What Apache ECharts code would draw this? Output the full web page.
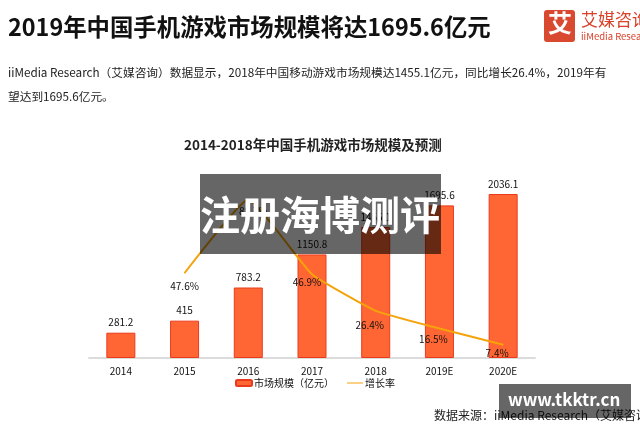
<!DOCTYPE html>
<html>
<head>
<meta charset="UTF-8">
<title>2014-2018年中国手机游戏市场规模及预测</title>
<script src="https://cdn.jsdelivr.net/npm/echarts@6/dist/echarts.min.js"></script>
<style>
    html,body{margin:0;padding:0;background:#fff;}
    #main{width:640px;height:427px;}
</style>
</head>
<body>
<div id="main"></div>
<script>
var FONT='"Noto Sans CJK SC"';
var categories=['2014','2015','2016','2017','2018','2019E','2020E'];
// 柱子标注的数值
var marketLabels=['281.2','415','783.2','1150.8','1455.1','1695.6','2036.1'];
// 柱高按图上读取，2020E 原图画得比标注低
var marketValues=[281.2,415,783.2,1150.8,1455.1,1695.6,1822];
// 2016 的增长率被水印挡住，按图上位置估读
var growthValues=[null,47.6,88.7,46.9,26.4,16.5,7.4];
var legendNames=['市场规模（亿元）','增长率'];

var myChart=echarts.init(document.getElementById('main'),null,{renderer:'canvas'});

// 增长率标签的偏移
var growthOffsets=[null,[0,3],[5,1],[-5,-3],[-6,4],[-6,0],[-6,-2]];
var growthData=growthValues.map(function(v,i){
    if(v===null) return null;
    return {value:v,label:{offset:growthOffsets[i]}};
});

function text(str,x,y,size,weight,color,z){
    return {type:'text',left:x,top:y,z:z||10,silent:true,style:{
        text:str,fill:color||'#111',font:(weight||'normal')+' '+size+'px '+FONT
    }};
}

myChart.setOption({
    backgroundColor:'#fff',
    animation:false,
    grid:{left:89,right:105,top:158,bottom:69},
    legend:{
        left:235,top:378,padding:0,itemWidth:16,itemHeight:6,itemGap:13,
        textStyle:{fontFamily:FONT,fontSize:10,color:'#111',padding:[0,0,0,-3]},
        data:[
            {name:legendNames[0]},
            // 细线图例
            {name:legendNames[1],icon:'path://M0,0H0.01V0.01H0Z M0,2.5H16V3.5H0Z M0,6H0.01V5.99H0Z',itemStyle:{color:'#f5a30a',borderWidth:0}}
        ]
    },
    xAxis:{
        type:'category',data:categories,
        axisLine:{lineStyle:{color:'#dcdcdc',width:2}},
        axisTick:{show:false},
        axisLabel:{color:'#111',fontFamily:FONT,fontSize:10,margin:8}
    },
    yAxis:[
        {type:'value',min:0,max:2222,show:false,splitLine:{show:false}},
        {type:'value',min:0,max:112,show:false,splitLine:{show:false}}
    ],
    series:[
        {
            name:legendNames[0],type:'bar',barWidth:29,yAxisIndex:0,
            data:marketValues,
            itemStyle:{color:'#ff6633',borderColor:'#ea3a1c',borderWidth:1},
            label:{
                show:true,position:'top',distance:5,color:'#111',fontFamily:FONT,fontSize:10,
                formatter:function(p){return marketLabels[p.dataIndex];}
            }
        },
        {
            name:legendNames[1],type:'line',yAxisIndex:1,smooth:0.12,
            data:growthData,symbol:'circle',symbolSize:1,showSymbol:true,showAllSymbol:true,
            lineStyle:{color:'#f5a30a',width:2},
            itemStyle:{color:'#f5a30a'},
            label:{
                show:true,position:'bottom',distance:5,color:'#111',fontFamily:FONT,fontSize:10,
                formatter:function(p){return p.value+'%';}
            }
        }
    ],
    graphic:[
        text('2019年中国手机游戏市场规模将达1695.6亿元',8,15,23.4,'bold','#111'),
        text('iiMedia Research（艾媒咨询）数据显示，2018年中国移动游戏市场规模达1455.1亿元，同比增长26.4%，2019年有',8,67,11.7,'normal','#222'),
        text('望达到1695.6亿元。',8,91,11.7,'normal','#222'),
        text('2014-2018年中国手机游戏市场规模及预测',184,138,13.5,'bold','#222'),
        // logo
        {type:'rect',z:10,silent:true,shape:{x:544,y:10,width:31,height:32,r:3},style:{fill:'#d9492f'}},
        text('艾',548,11,24,'bold','#fff'),
        text('艾媒咨询',581,11,17,'normal','#d9412a'),
        text('iiMedia Research',581,32,9.5,'normal','#d9412a'),
        // 来源
        text('数据来源：iiMedia Research（艾媒咨询）',434,409,12,'normal','#222'),
        // 水印
        {type:'rect',z:20,silent:true,shape:{x:200,y:174,width:241,height:80},style:{fill:'rgba(0,0,0,0.6)'}},
        text('注册海博测评',200,195,40,'bold','#fff',21),
        {type:'rect',z:20,silent:true,shape:{x:499,y:384,width:132,height:34},style:{fill:'rgba(0,0,0,0.6)'}},
        text('www.tkktr.cn',508,391,17,'bold','#fff',21)
    ]
});
</script>
</body>
</html>
